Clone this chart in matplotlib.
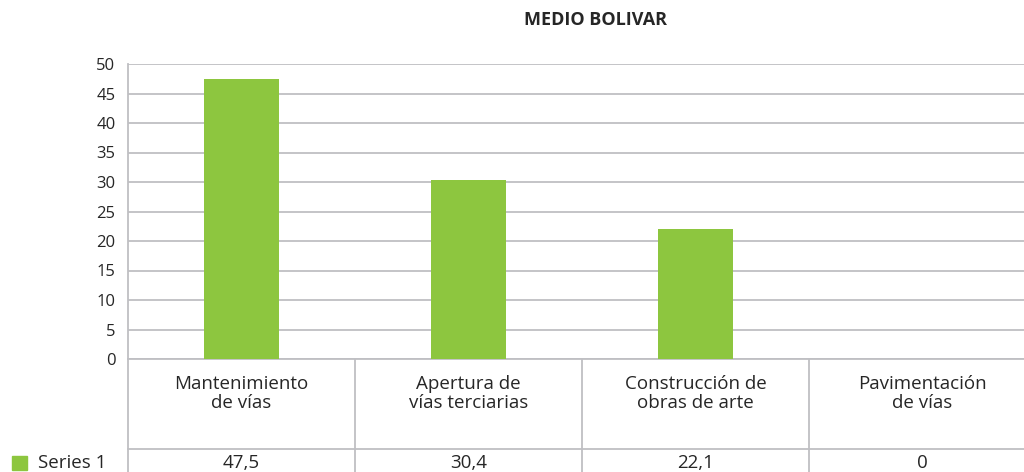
import matplotlib
matplotlib.use("Agg")
from matplotlib import pyplot as plt
from matplotlib import transforms

plt.rcParams['font.family'] = ['Open Sans', 'DejaVu Sans']

# data
categorias = ["Mantenimiento\nde vías", "Apertura de\nvías terciarias",
              "Construcción de\nobras de arte", "Pavimentación\nde vías"]
valores = [47.5, 30.4, 22.1, 0]
etiquetas = ["47,5", "30,4", "22,1", "0"]
serie = "Series 1"
titulo = "MEDIO BOLIVAR"

verde = "#8DC63F"
gris = "#BFBFC3"
texto = "#262626"

W, H = 1024, 472
fig = plt.figure(figsize=(W / 100, H / 100), dpi=100)
# plot area in pixels: left 128, top 64, bottom 359, right past the edge
ax = fig.add_axes([128 / W, 1 - 359 / H, (1036 - 128) / W, (359 - 64) / H])

xs = list(range(len(categorias)))
ax.bar(xs, valores, width=0.326, color=verde, zorder=3)

ax.set_xlim(-0.5, len(categorias) - 0.5)
ax.set_ylim(0, 50)
ax.set_yticks(range(0, 51, 5))
ax.yaxis.grid(True, color=gris, linewidth=1.3, zorder=0)
ax.tick_params(axis='y', length=0, pad=9, labelsize=12, labelcolor=texto)
ax.set_xticks([])
for s in ["top", "right", "bottom"]:
    ax.spines[s].set_visible(False)
ax.spines["left"].set_color(gris)
ax.spines["left"].set_linewidth(1.3)

fig.text(595 / W, 1 - 20 / H, titulo, ha="center", va="center",
         fontsize=13, fontweight="bold", color=texto)

# data table below the axis, y in pixels from the top
tr = transforms.blended_transform_factory(
    ax.transData, transforms.Affine2D().scale(1, -1).translate(0, H))
for i in range(len(categorias) + 1):
    ax.plot([i - 0.5, i - 0.5], [359, 472], transform=tr, color=gris,
            linewidth=1.3, clip_on=False)
ax.plot([-0.5, len(categorias) - 0.5], [359, 359], transform=tr, color=gris,
        linewidth=1.3, clip_on=False)
ax.plot([-0.5, len(categorias) - 0.5], [449, 449], transform=tr, color=gris,
        linewidth=1.3, clip_on=False)
for i, (c, e) in enumerate(zip(categorias, etiquetas)):
    ax.text(i, 375, c, transform=tr, ha="center", va="top", fontsize=13.5,
            color=texto, linespacing=1.1)
    ax.text(i, 463, e, transform=tr, ha="center", va="center", fontsize=13.5,
            color=texto)

# legend key
fig.patches.append(plt.Rectangle((12 / W, 1 - 470 / H), 15 / W, 14 / H,
                                 transform=fig.transFigure, color=verde))
fig.text(38 / W, 1 - 463 / H, serie, ha="left", va="center", fontsize=13.5,
         color=texto)

fig.savefig("out.png", dpi=100)
